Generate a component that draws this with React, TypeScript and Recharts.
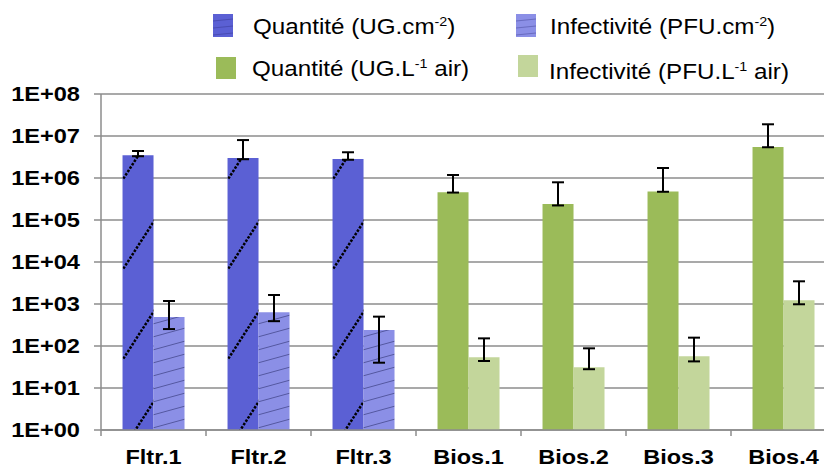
import React from 'react';
import { BarChart, Bar, XAxis, YAxis, CartesianGrid, ErrorBar, Cell, Legend } from 'recharts';

const categories = ['Fltr.1', 'Fltr.2', 'Fltr.3', 'Bios.1', 'Bios.2', 'Bios.3', 'Bios.4'];
const sampleType = ['filtre', 'filtre', 'filtre', 'bios', 'bios', 'bios', 'bios'];
const quantite = [3.5e6, 3.0e6, 2.85e6, 4.6e5, 2.4e5, 4.8e5, 5.5e6];
const quantiteErrLow = [2e5, 2e5, 1.3e5, 1e4, 1.8e4, 1e4, 1e5];
const quantiteErrHigh = [9e5, 5.0e6, 1.25e6, 7.2e5, 5.5e5, 1.25e6, 1.35e7];
const infectivite = [490, 640, 240, 54, 31, 57, 1225];
const infectiviteErrLow = [237, 250, 200, 10, 3, 14, 240];
const infectiviteErrHigh = [690, 1000, 260, 98, 57, 101, 2245];
const yTicks = [1, 10, 100, 1e3, 1e4, 1e5, 1e6, 1e7, 1e8];
const yTickLabels = ['1E+00', '1E+01', '1E+02', '1E+03', '1E+04', '1E+05', '1E+06', '1E+07', '1E+08'];

const data = categories.map((cat, i) => ({
  cat,
  type: sampleType[i],
  quant: quantite[i],
  quantErr: [quantiteErrLow[i], quantiteErrHigh[i]],
  inf: infectivite[i],
  infErr: [infectiviteErrLow[i], infectiviteErrHigh[i]],
}));

const FONT = '"Liberation Sans", Arial, sans-serif';
const GRID = '#8c8c8c';
const DARK_BLUE = '#5b60d4';
const LIGHT_BLUE = '#8b8fe6';
const GREEN = '#9bbb59';
const LIGHT_GREEN = '#c3d69b';

const YTick = (props: any) => {
  const { x, y, payload } = props;
  const idx = yTicks.indexOf(payload.value);
  return (
    <g transform={`translate(${x},${y}) scale(1.18,1)`}>
      <text x={0} y={0} dy={7} textAnchor="end" fontFamily={FONT} fontWeight="bold" fontSize={20} fill="#000">
        {idx >= 0 ? yTickLabels[idx] : ''}
      </text>
    </g>
  );
};

const XTick = (props: any) => {
  const { x, y, payload } = props;
  const half = payload && typeof payload.offset === 'number' ? payload.offset : 0;
  return (
    <g>
      <line x1={x - half} x2={x - half} y1={y} y2={y + 6} stroke={GRID} strokeWidth={1.5} />
      <g transform={`translate(${x},${y + 33.5}) scale(1.12,1)`}>
        <text x={0} y={0} textAnchor="middle" fontFamily={FONT} fontWeight="bold" fontSize={21} fill="#000">
          {payload.value}
        </text>
      </g>
    </g>
  );
};

const legendItems = [
  { label: 'Quantité (UG.cm', sup: '-2', tail: ')', kind: 'dark', iconX: 213, iconY: 14, iconH: 23, textX: 253, baseline: 35 },
  { label: 'Infectivité (PFU.cm', sup: '-2', tail: ')', kind: 'light', iconX: 516, iconY: 14, iconH: 23, textX: 550, baseline: 35 },
  { label: 'Quantité (UG.L', sup: '-1', tail: ' air)', kind: 'green', iconX: 216, iconY: 57, iconH: 22, textX: 252, baseline: 76.7 },
  { label: 'Infectivité (PFU.L', sup: '-1', tail: ' air)', kind: 'lightgreen', iconX: 518, iconY: 55, iconH: 22, textX: 549, baseline: 80 },
];

const LegendIcon = ({ kind, h }: { kind: string; h: number }) => {
  if (kind === 'dark' || kind === 'light') {
    const base = kind === 'dark' ? DARK_BLUE : LIGHT_BLUE;
    return (
      <svg width={20} height={h} style={{ display: 'block' }}>
        <rect x={0} y={0} width={20} height={h} fill={base} />
        <line x1={0} y1={7} x2={20} y2={5} stroke="rgba(40,40,120,0.35)" strokeWidth={1} />
        <line x1={0} y1={14} x2={20} y2={12} stroke="rgba(40,40,120,0.35)" strokeWidth={1} />
        <line x1={0} y1={21} x2={20} y2={19} stroke="rgba(40,40,120,0.35)" strokeWidth={1} />
      </svg>
    );
  }
  return <div style={{ width: 20, height: h, background: kind === 'green' ? GREEN : LIGHT_GREEN }} />;
};

const LegendBox = () => (
  <div style={{ position: 'relative', width: 824, height: 90, fontFamily: FONT }}>
    {legendItems.map((it) => (
      <React.Fragment key={it.label}>
        <div style={{ position: 'absolute', left: it.iconX, top: it.iconY }}>
          <LegendIcon kind={it.kind} h={it.iconH} />
        </div>
        <div
          style={{
            position: 'absolute',
            left: it.textX,
            top: it.baseline - 18.6,
            fontSize: 22,
            lineHeight: '22px',
            whiteSpace: 'nowrap',
            color: '#000',
            transform: 'scaleX(1.1)',
            transformOrigin: 'left top',
          }}
        >
          {it.label}
          <span style={{ fontSize: 13, position: 'relative', top: -8 }}>{it.sup}</span>
          {it.tail}
        </div>
      </React.Fragment>
    ))}
  </div>
);

export default function App() {
  return (
    <div style={{ position: 'fixed', left: 0, top: 0, width: 824, height: 468, overflow: 'hidden', background: '#fff' }}>
      <BarChart
        width={850}
        height={468}
        data={data}
        margin={{ top: 94, right: 14, left: 0, bottom: 0 }}
        barCategoryGap="20.5%"
        barGap={0}
      >
        <defs>
          <pattern id="patDark" patternUnits="userSpaceOnUse" width={105} height={90}>
            <rect x={0} y={0} width={105} height={90} fill={DARK_BLUE} />
            <line x1={14} y1={95.4} x2={52} y2={36.5} stroke="#000" strokeWidth={2.5} strokeDasharray="2.5 1.5" />
          </pattern>
          <pattern id="patLight" patternUnits="userSpaceOnUse" width={105} height={13}>
            <rect x={0} y={0} width={105} height={13} fill={LIGHT_BLUE} />
            <line x1={44} y1={13} x2={84} y2={2} stroke="rgba(60,62,130,0.7)" strokeWidth={1} />
          </pattern>
        </defs>
        <CartesianGrid vertical={false} stroke={GRID} strokeWidth={1.5} />
        <XAxis
          dataKey="cat"
          height={38}
          interval={0}
          tickLine={false}
          tickSize={0}
          tickMargin={0}
          axisLine={{ stroke: GRID, strokeWidth: 1.5 }}
          tick={<XTick />}
        />
        <YAxis
          type="number"
          scale="log"
          domain={[1, 1e8]}
          ticks={yTicks}
          interval={0}
          allowDataOverflow
          width={101}
          tickSize={7}
          tickMargin={14}
          axisLine={{ stroke: GRID, strokeWidth: 1.5 }}
          tickLine={{ stroke: GRID, strokeWidth: 1.5 }}
          tick={<YTick />}
        />
        <Legend
          layout="horizontal"
          verticalAlign="middle"
          align="center"
          wrapperStyle={{ position: 'absolute', left: 0, top: 0, width: 824, height: 90 }}
          content={() => <LegendBox />}
        />
        <Bar dataKey="quant" isAnimationActive={false}>
          {data.map((d) => (
            <Cell key={d.cat} fill={d.type === 'filtre' ? 'url(#patDark)' : GREEN} />
          ))}
          <ErrorBar dataKey="quantErr" width={6} stroke="#000" strokeWidth={2} direction="y" />
        </Bar>
        <Bar dataKey="inf" isAnimationActive={false}>
          {data.map((d) => (
            <Cell key={d.cat} fill={d.type === 'filtre' ? 'url(#patLight)' : LIGHT_GREEN} />
          ))}
          <ErrorBar dataKey="infErr" width={6} stroke="#000" strokeWidth={2} direction="y" />
        </Bar>
      </BarChart>
    </div>
  );
}
